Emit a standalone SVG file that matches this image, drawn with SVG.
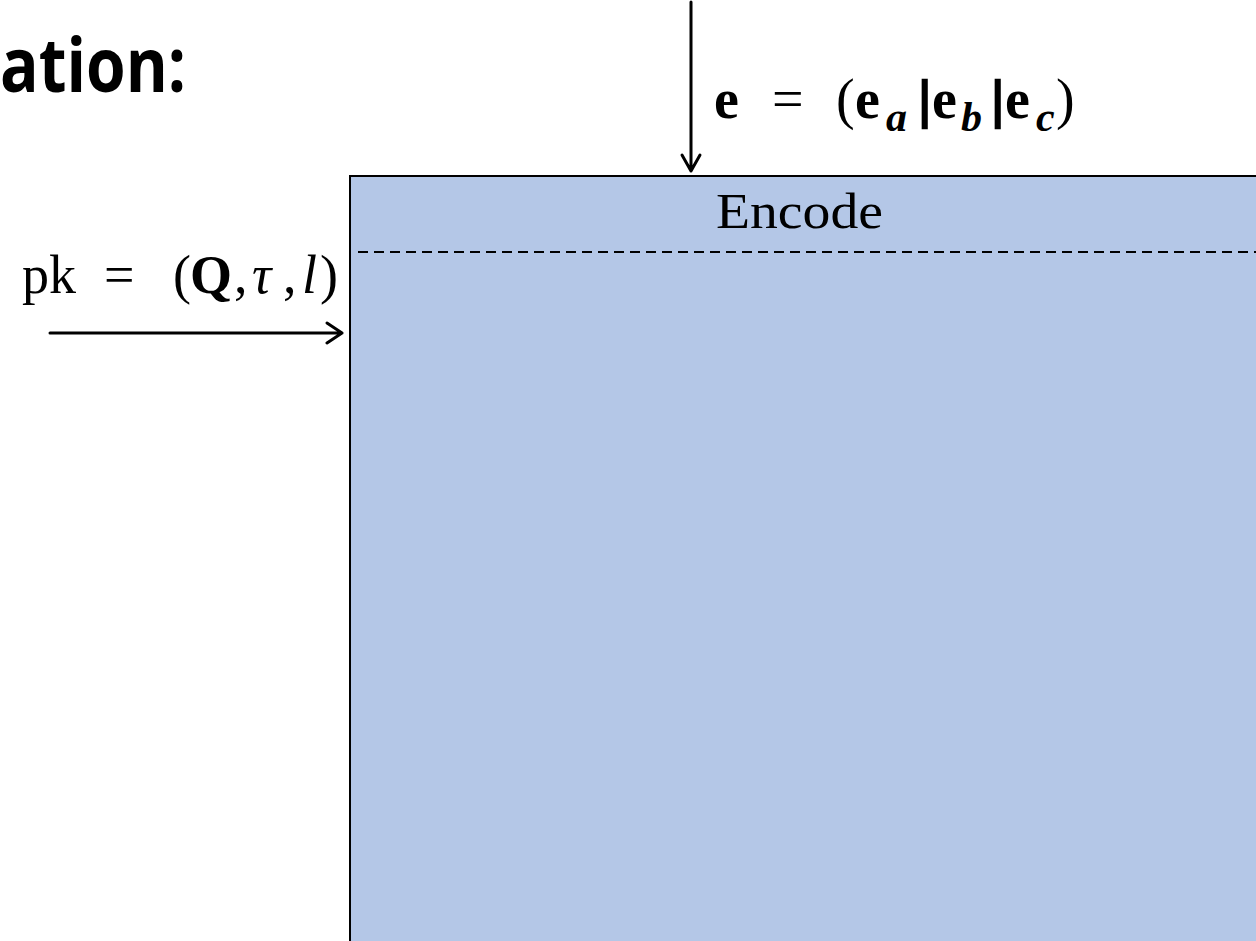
<svg xmlns="http://www.w3.org/2000/svg" width="1256" height="941" viewBox="0 0 1256 941">
<style>
.math{font-family:"Liberation Serif","DejaVu Serif",serif;fill:#000}
.b{font-weight:bold}
.bi{font-weight:bold;font-style:italic}
.bar{font-weight:bold;stroke:#000;stroke-width:2.5}
.title{font-family:"Open Sans","Liberation Sans",sans-serif;font-weight:bold;fill:#000}
.conn{stroke:#000;stroke-width:3;fill:none;stroke-linecap:round;stroke-linejoin:round}
</style>
<rect width="1256" height="941" fill="#fff"/>
<text class="title" x="0" y="92" font-size="76" textLength="186" lengthAdjust="spacingAndGlyphs">ation:</text>
<g id="encode">
<rect x="350" y="176" width="920" height="780" fill="#B4C7E7" stroke="#000" stroke-width="2"/>
<line x1="358" y1="252" x2="1256" y2="252" stroke="#000" stroke-width="2" stroke-dasharray="10,6"/>
<text class="math" x="716" y="228" font-size="50" textLength="167" lengthAdjust="spacingAndGlyphs">Encode</text>
</g>
<g id="label-e" class="math" font-size="56">
<text class="b" x="714" y="118">e</text>
<text x="772" y="118">=</text>
<text x="836" y="118">(</text>
<text class="b" x="855" y="118">e</text>
<text class="bi" x="886" y="131" font-size="42">a</text>
<text class="bar" x="919" y="117" font-size="52">|</text>
<text class="b" x="932" y="118">e</text>
<text class="bi" x="961" y="131" font-size="42">b</text>
<text class="bar" x="992" y="117" font-size="52">|</text>
<text class="b" x="1005" y="118">e</text>
<text class="bi" x="1036" y="131" font-size="42">c</text>
<text x="1056" y="118">)</text>
</g>
<g id="label-pk" class="math" font-size="54">
<text x="22" y="293">pk</text>
<text x="104" y="293">=</text>
<text x="173" y="293">(</text>
<text class="b" x="190" y="293">Q</text>
<text x="234" y="293">,</text>
<text x="252" y="293" font-style="italic">τ</text>
<text x="283" y="293">,</text>
<text x="302" y="293" font-style="italic">l</text>
<text x="320" y="293">)</text>
</g>
<g id="connectors">
<path class="conn" d="M691 2 V171 M682 155 L691 171 L700 155"/>
<path class="conn" d="M50 333 H342 M327 323 L342 333 L327 343"/>
</g>
</svg>
